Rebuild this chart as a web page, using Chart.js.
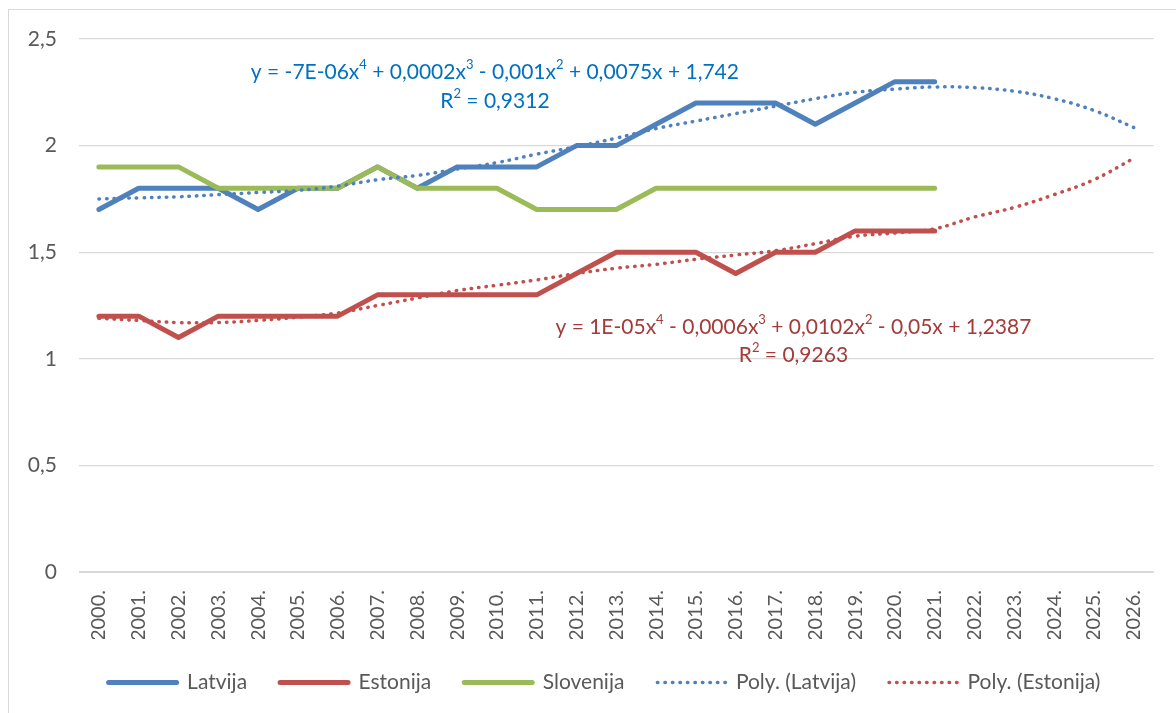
<!DOCTYPE html>
<html>
<head>
<meta charset="utf-8">
<script src="https://cdn.jsdelivr.net/npm/chart.js@4.4.1/dist/chart.umd.min.js"></script>
<style>
  html, body { margin: 0; padding: 0; background: #fff; overflow: hidden; }
  #frame { position: absolute; left: 8px; top: 9px; width: 1200px; height: 740px; border: 1px solid #d9d9d9; }
  #chart { position: absolute; left: 0; top: 0; }
</style>
</head>
<body>
<div id="frame"><canvas id="chart" width="1167" height="703"></canvas></div>
<script>
const years = ['2000.', '2001.', '2002.', '2003.', '2004.', '2005.', '2006.', '2007.', '2008.',
  '2009.', '2010.', '2011.', '2012.', '2013.', '2014.', '2015.', '2016.', '2017.', '2018.',
  '2019.', '2020.', '2021.', '2022.', '2023.', '2024.', '2025.', '2026.']

const latvija = [1.7, 1.8, 1.8, 1.8, 1.7, 1.8, 1.8, 1.9, 1.8, 1.9, 1.9, 1.9, 2.0, 2.0, 2.1,
  2.2, 2.2, 2.2, 2.1, 2.2, 2.3, 2.3]
const estonija = [1.2, 1.2, 1.1, 1.2, 1.2, 1.2, 1.2, 1.3, 1.3, 1.3, 1.3, 1.3, 1.4, 1.5, 1.5,
  1.5, 1.4, 1.5, 1.5, 1.6, 1.6, 1.6]
const slovenija = [1.9, 1.9, 1.9, 1.8, 1.8, 1.8, 1.8, 1.9, 1.8, 1.8, 1.8, 1.7, 1.7, 1.7, 1.8,
  1.8, 1.8, 1.8, 1.8, 1.8, 1.8, 1.8]

// trendlines
const polyLatvija = [1.75, 1.755, 1.76, 1.77, 1.78, 1.79, 1.81, 1.84, 1.86, 1.89, 1.92, 1.96,
  1.995, 2.035, 2.08, 2.115, 2.15, 2.185, 2.22, 2.25, 2.265, 2.275, 2.272, 2.255, 2.22, 2.165, 2.085]
const polyEstonija = [1.19, 1.18, 1.17, 1.17, 1.18, 1.195, 1.215, 1.25, 1.285, 1.32, 1.345, 1.37,
  1.40, 1.425, 1.443, 1.467, 1.487, 1.507, 1.54, 1.575, 1.59, 1.61, 1.665, 1.71, 1.77, 1.84, 1.94]

const yTicks = [0, 0.5, 1, 1.5, 2, 2.5]

const FONT = 'Lato, "Open Sans", sans-serif'

// trendline labels: [text, superscript?]
const notes = [
  { color: '#0070c0', x: 9.95, y: 2.345, parts: [['y = -7E-06x'], ['4', 1], [' + 0,0002x'], ['3', 1],
    [' - 0,001x'], ['2', 1], [' + 0,0075x + 1,742']] },
  { color: '#0070c0', x: 9.95, y: 2.21, parts: [['R'], ['2', 1], [' = 0,9312']] },
  { color: '#a33b39', x: 17.45, y: 1.149, parts: [['y = 1E-05x'], ['4', 1], [' - 0,0006x'], ['3', 1],
    [' + 0,0102x'], ['2', 1], [' - 0,05x + 1,2387']] },
  { color: '#a33b39', x: 17.45, y: 1.018, parts: [['R'], ['2', 1], [' = 0,9263']] }
]

const notePlugin = {
  id: 'notes',
  beforeDraw(chart) {
    // legend in the original sits a little right of the canvas centre
    chart.legend.left = 40
  },
  afterDatasetsDraw(chart) {
    const ctx = chart.ctx
    const xs = chart.scales.x, ys = chart.scales.y
    ctx.save()
    ctx.textBaseline = 'middle'
    ctx.textAlign = 'left'
    notes.forEach(n => {
      const big = '21px ' + FONT, small = '13px ' + FONT
      let w = 0
      n.parts.forEach(p => { ctx.font = p[1] ? small : big; w += ctx.measureText(p[0]).width })
      let x = xs.getPixelForValue(n.x) - w / 2
      const y = ys.getPixelForValue(n.y)
      ctx.fillStyle = n.color
      n.parts.forEach(p => {
        ctx.font = p[1] ? small : big
        ctx.fillText(p[0], x, p[1] ? y - 7 : y)
        x += ctx.measureText(p[0]).width
      })
    })
    ctx.restore()
  }
}

const solid = (label, data, color, order) => ({
  label, data, order,
  borderColor: color, backgroundColor: color,
  borderWidth: 5, borderCapStyle: 'round', borderJoinStyle: 'round',
  pointRadius: 0, pointStyle: 'line', tension: 0, fill: false
})
const dotted = (label, data, color) => ({
  label, data, order: 0,
  borderColor: color, backgroundColor: color,
  borderWidth: 3.5, borderCapStyle: 'round', borderDash: [0.5, 7],
  pointRadius: 0, pointStyle: 'line', tension: 0.4, fill: false
})

const baseLabels = Chart.defaults.plugins.legend.labels.generateLabels

new Chart(document.getElementById('chart'), {
  type: 'line',
  data: {
    labels: years,
    datasets: [
      solid('Latvija', latvija, '#4f81bd', 3),
      solid('Estonija', estonija, '#c0504d', 2),
      solid('Slovenija', slovenija, '#9bbb59', 1),
      dotted('Poly. (Latvija)', polyLatvija, '#4f81bd'),
      dotted('Poly. (Estonija)', polyEstonija, '#c0504d')
    ]
  },
  options: {
    responsive: false,
    animation: false,
    layout: { autoPadding: false, padding: { left: 0, right: 16, top: 29, bottom: 10 } },
    plugins: {
      tooltip: { enabled: false },
      legend: {
        position: 'bottom',
        labels: {
          usePointStyle: true,
          pointStyleWidth: 68,
          padding: 33,
          color: '#595959',
          font: { family: FONT, size: 21 },
          sort: (a, b) => a.datasetIndex - b.datasetIndex,
          generateLabels(chart) {
            return baseLabels(chart).map(item => {
              const ds = chart.data.datasets[item.datasetIndex]
              item.pointStyle = 'line'
              item.strokeStyle = ds.borderColor
              item.lineWidth = ds.borderWidth
              item.lineDash = ds.borderDash || []
              item.lineCap = 'round'
              return item
            })
          }
        }
      }
    },
    scales: {
      x: {
        offset: true,
        grid: { display: false, drawTicks: false },
        border: { color: '#d9d9d9', width: 1 },
        ticks: {
          autoSkip: false, minRotation: 90, maxRotation: 90, padding: 18,
          color: '#595959', font: { family: FONT, size: 20 }
        },
        afterFit(scale) { scale.height = 67 }
      },
      y: {
        min: 0, max: 2.5,
        afterBuildTicks(scale) { scale.ticks = yTicks.map(v => ({ value: v })) },
        grid: { color: '#d9d9d9', lineWidth: 1.3, drawTicks: false },
        border: { display: false },
        ticks: {
          padding: 22, color: '#595959', font: { family: FONT, size: 21 },
          callback: v => String(v).replace('.', ',')
        },
        afterFit(scale) {
          scale.width = 70
          scale.paddingTop = 12
          scale.paddingBottom = 12
        }
      }
    }
  },
  plugins: [notePlugin]
})
</script>
</body>
</html>
